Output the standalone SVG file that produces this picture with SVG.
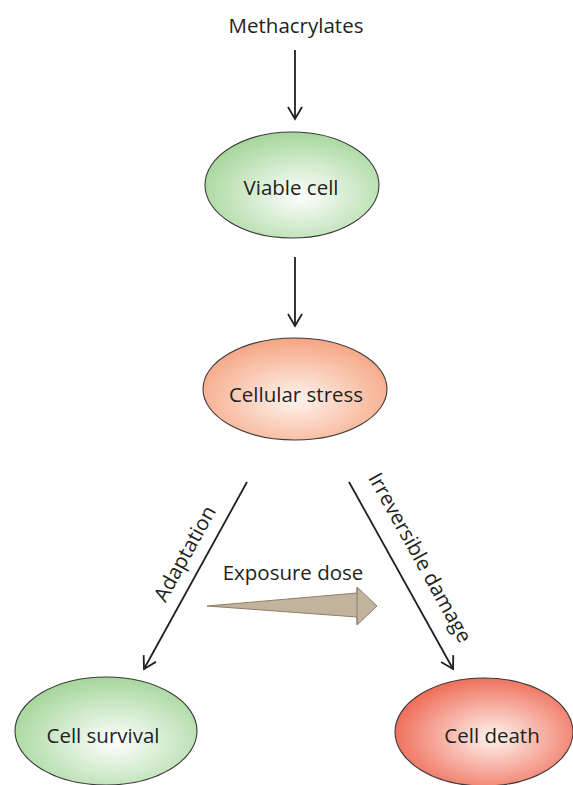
<svg xmlns="http://www.w3.org/2000/svg" width="573" height="785" viewBox="0 0 573 785">
<style>
text{font-family:"Open Sans","Liberation Sans",Arial,sans-serif;font-size:20.5px;fill:#231f20}
.node{stroke:#3a3a3a;stroke-width:1.1}
.conn{stroke:#231f20;stroke-width:1.8;fill:none;marker-end:url(#ah)}
</style>
<defs>
<marker id="ah" viewBox="0 0 20 20" refX="18" refY="10" markerWidth="20" markerHeight="20" markerUnits="userSpaceOnUse" orient="auto">
<polyline points="6,3 18,10 6,17" fill="none" stroke="#231f20" stroke-width="1.8"/>
</marker>
<radialGradient id="gGreen" cx="0.55" cy="0.6" r="0.6">
<stop offset="0" stop-color="#ffffff"/>
<stop offset="1" stop-color="#a6d79c"/>
</radialGradient>
<radialGradient id="gPeach" cx="0.5" cy="0.6" r="0.6">
<stop offset="0" stop-color="#fff4ee"/>
<stop offset="1" stop-color="#f5a582"/>
</radialGradient>
<radialGradient id="gRed" cx="0.55" cy="0.55" r="0.6">
<stop offset="0" stop-color="#fff4f0"/>
<stop offset="1" stop-color="#ee6650"/>
</radialGradient>
</defs>
<g id="methacrylates"><text x="296" y="33" text-anchor="middle">Methacrylates</text></g>
<g id="viable-cell"><ellipse class="node" cx="292" cy="185" rx="87" ry="53" fill="url(#gGreen)"/><text x="291" y="195" text-anchor="middle">Viable cell</text></g>
<g id="cellular-stress"><ellipse class="node" cx="295" cy="389" rx="92" ry="51" fill="url(#gPeach)"/><text x="296" y="402" text-anchor="middle">Cellular stress</text></g>
<g id="cell-survival"><ellipse class="node" cx="106" cy="731" rx="91" ry="54" fill="url(#gGreen)"/><text x="103" y="743" text-anchor="middle">Cell survival</text></g>
<g id="cell-death"><ellipse class="node" cx="484" cy="732" rx="89" ry="54" fill="url(#gRed)"/><text x="492" y="743" text-anchor="middle">Cell death</text></g>
<g id="exposure-dose">
<polygon points="207,606 357,593 357,587 377,606 357,625 357,617" fill="#c2b39d" stroke="#8c7f6c" stroke-width="1"/>
<line x1="357" y1="588" x2="357" y2="624" stroke="#8c7f6c" stroke-width="1"/>
<text x="293" y="580" text-anchor="middle">Exposure dose</text>
</g>
<g id="connectors">
<line class="conn" x1="295" y1="50" x2="295" y2="119"/>
<line class="conn" x1="295" y1="257" x2="295" y2="326"/>
<line class="conn" x1="247" y1="482" x2="144" y2="669"/>
<line class="conn" x1="349" y1="482" x2="453" y2="669"/>
<text transform="translate(191,557) rotate(-61)" text-anchor="middle">Adaptation</text>
<text transform="translate(414,561) rotate(61)" text-anchor="middle">Irreversible damage</text>
</g>
</svg>
